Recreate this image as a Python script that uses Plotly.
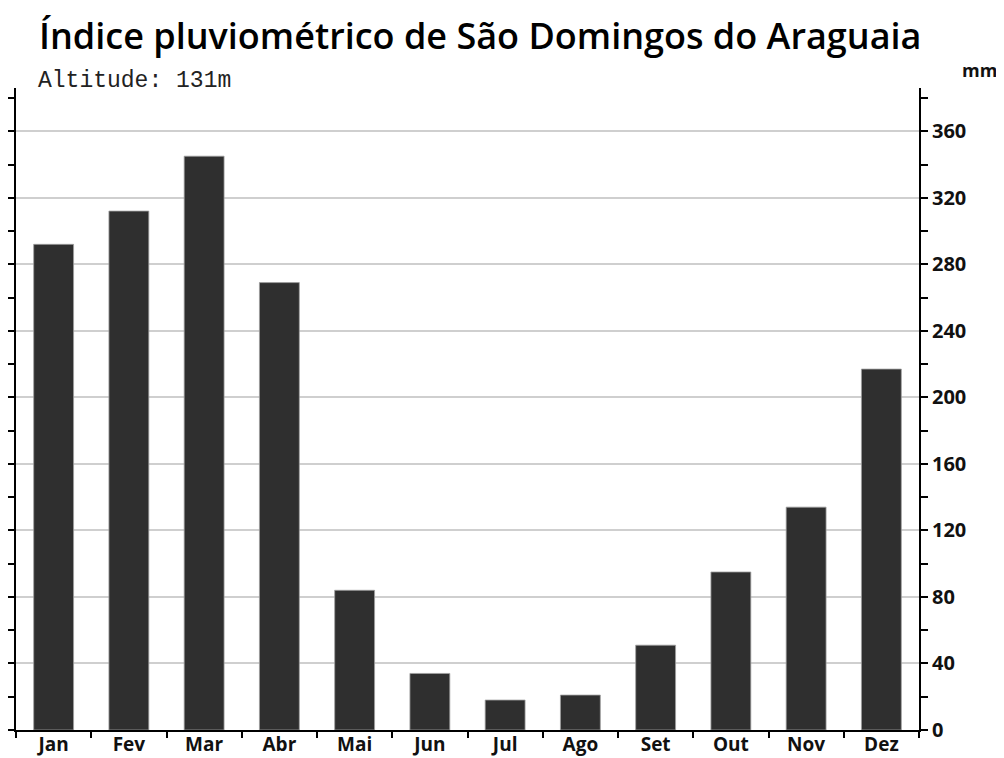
import plotly.graph_objects as go

months = ["Jan", "Fev", "Mar", "Abr", "Mai", "Jun", "Jul", "Ago", "Set", "Out", "Nov", "Dez"]
rain_mm = [292, 312, 345, 269, 84, 34, 18, 21, 51, 95, 134, 217]
y_ticks = [0, 40, 80, 120, 160, 200, 240, 280, 320, 360]
title_text = "Índice pluviométrico de São Domingos do Araguaia"
subtitle_text = "Altitude: 131m"
unit_text = "mm"

Y_MAX = 386
FONT = "Open Sans"

# page has an 8px body margin; plot area should span page x 16..919, y 88..730
PX0, PX1, PY0, PY1 = 16, 919, 730, 88


def px(xp):
    return (xp - PX0) / (PX1 - PX0)


def py(yp):
    return (PY0 - yp) / (PY0 - PY1)


fig = go.Figure()
fig.add_trace(go.Bar(
    x=months, y=rain_mm,
    marker=dict(color="#2f2f2f", line=dict(color="#a0a0a0", width=0.8)),
    width=0.53, yaxis="y", showlegend=False, hoverinfo="x+y",
))
# invisible trace for the left axis
fig.add_trace(go.Scatter(x=[months[0]], y=[0], yaxis="y2", mode="markers",
                         marker=dict(opacity=0), showlegend=False, hoverinfo="skip"))

fig.update_layout(
    width=996, height=750,
    margin=dict(l=8, r=85, t=80, b=28),
    paper_bgcolor="white", plot_bgcolor="white",
    xaxis=dict(
        type="category", tickson="boundaries", ticks="outside", ticklen=6,
        tickwidth=2, tickcolor="black",
        showline=True, linecolor="black", linewidth=2,
        showgrid=False, zeroline=False, automargin=False,
        tickfont=dict(family=FONT, size=19, color="#111", weight="bold"),
        ticklabelstandoff=-4,
        range=[-0.5, 11.5],
    ),
    yaxis=dict(
        side="right", range=[0, Y_MAX], tickmode="array", tickvals=y_ticks,
        ticks="outside", ticklen=7, tickwidth=2, tickcolor="black",
        showline=True, linecolor="black", linewidth=2,
        showgrid=True, gridcolor="#cfcfcf", gridwidth=1.5,
        zeroline=False, automargin=False,
        minor=dict(dtick=20, tick0=0, ticks="outside", ticklen=7, tickwidth=2,
                   tickcolor="black", showgrid=False),
        tickfont=dict(family=FONT, size=20, color="#111", weight="bold"),
        ticklabelstandoff=0,
    ),
    yaxis2=dict(
        overlaying="y", side="left", range=[0, Y_MAX],
        tickmode="linear", tick0=0, dtick=20,
        ticks="outside", ticklen=6, tickwidth=2, tickcolor="black",
        showline=True, linecolor="black", linewidth=2, automargin=False,
        showticklabels=False, showgrid=False, zeroline=False,
    ),
)

fig.add_annotation(text=title_text, xref="paper", yref="paper",
                   x=px(37), y=py(36), xanchor="left", yanchor="middle",
                   showarrow=False, font=dict(family=FONT, size=36, color="black", weight=600))
fig.add_annotation(text=subtitle_text, xref="paper", yref="paper",
                   x=px(36), y=py(81), xanchor="left", yanchor="middle",
                   showarrow=False, font=dict(family="Liberation Mono", size=23, color="#222"))
fig.add_annotation(text=unit_text, xref="paper", yref="paper",
                   x=px(979), y=py(70), xanchor="center", yanchor="middle",
                   showarrow=False, font=dict(family=FONT, size=18, color="#111", weight="bold"))

fig.write_html("out.html")
